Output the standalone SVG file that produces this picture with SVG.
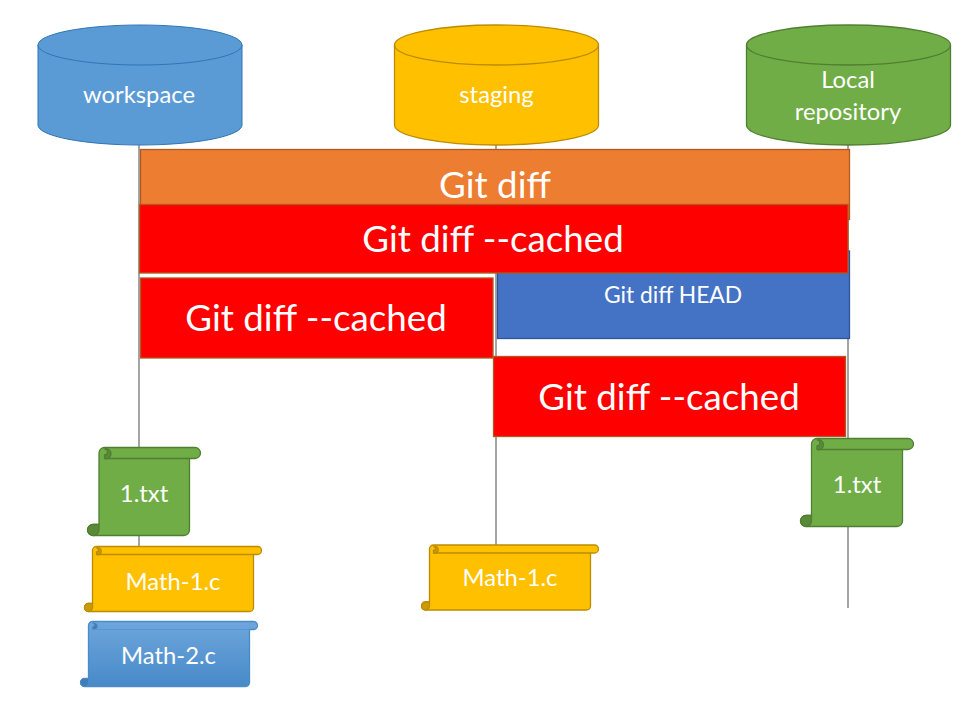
<svg xmlns="http://www.w3.org/2000/svg" width="969" height="712" viewBox="0 0 969 712">
<style>
text{font-family:"Lato","Open Sans","Liberation Sans",sans-serif;fill:#fff;text-anchor:middle}
.t24{font-size:23.800px}.t36{font-size:36.700px}.t22{font-size:22.800px}
.line{stroke:#a5a5a5;stroke-width:2;fill:none}
.blue{fill:#5b9bd5;stroke:#2e75b6;stroke-width:1}
.yellow{fill:#ffc000;stroke:#bc8c00;stroke-width:1.300}
.green{fill:#70ad47;stroke:#507e32;stroke-width:1.300}
.orange{fill:#ed7d31;stroke:#ae5a21;stroke-width:1.300}
.red{fill:#f00;stroke:#ae5a21;stroke-width:1.300}
.bluer{fill:#4472c4;stroke:#2f5597;stroke-width:1.300}
.dy{fill:#cc9a00}.dg{fill:#5a8a39}.db{fill:#3f7cb8}
.edge{fill:none}
</style>
<defs>
<linearGradient id="g" x1="0" y1="0" x2="0" y2="1"><stop offset="0" stop-color="#6ea6dc"/><stop offset="1" stop-color="#478ac8"/></linearGradient>
</defs>
<g id="connectors">
<path class="line" d="M139 145V560"/>
<path class="line" d="M496 145V546"/>
<path class="line" d="M848 145V608"/>
</g>
<g id="workspace">
<path class="blue" d="M38 45V125A102 20 0 0 0 242 125V45A102 20 0 0 0 38 45Z"/>
<path class="blue edge" d="M38 45A102 20 0 0 0 242 45"/>
<text class="t24" x="139" y="103">workspace</text>
</g>
<g id="staging">
<path class="yellow" d="M394.500 45V125A102 20 0 0 0 598.500 125V45A102 20 0 0 0 394.500 45Z"/>
<path class="yellow edge" d="M394.500 45A102 20 0 0 0 598.500 45"/>
<text class="t24" x="496.500" y="103">staging</text>
</g>
<g id="local-repository">
<path class="green" d="M746.500 45V125A102 20 0 0 0 950.500 125V45A102 20 0 0 0 746.500 45Z"/>
<path class="green edge" d="M746.500 45A102 20 0 0 0 950.500 45"/>
<text class="t24" x="848" y="88">Local</text>
<text class="t24" x="848" y="120">repository</text>
</g>
<g id="git-diff">
<rect class="orange" x="140.500" y="149.500" width="709" height="70"/>
<text class="t36" x="495" y="198">Git diff</text>
</g>
<g id="git-diff-head">
<rect class="bluer" x="497.500" y="251" width="352" height="87.500"/>
<text class="t22" x="673" y="303">Git diff HEAD</text>
</g>
<g id="git-diff-cached-1">
<rect class="red" x="139.500" y="204.500" width="708.500" height="68.500"/>
<text class="t36" x="493" y="252">Git diff --cached</text>
</g>
<g id="git-diff-cached-2">
<rect class="red" x="140.500" y="278" width="352.500" height="80"/>
<text class="t36" x="316" y="331">Git diff --cached</text>
</g>
<g id="git-diff-cached-3">
<rect class="red" x="493.500" y="356.500" width="352" height="80"/>
<text class="t36" x="669" y="410">Git diff --cached</text>
</g>
<g id="file-1-workspace">
<path class="green" d="M99 453A5.500 5.500 0 0 1 104.500 447.500H195A5.500 5.500 0 0 1 195 458.500H189.500V530A5.500 5.500 0 0 1 184 535.500H93A5.500 5.500 0 0 1 93 524.500H99Z"/>
<path class="green dg" d="M99 524.500H93A5.500 5.500 0 0 0 93 535.500A5.500 5.500 0 0 0 99 530ZM104.500 458.500A5 5 0 1 0 104.500 449A3 3 0 0 1 104.500 455Z"/>
<path class="green edge" d="M104.500 458.500H189.500"/>
<text class="t24" x="144" y="502">1.txt</text>
</g>
<g id="file-1-repository">
<path class="green" d="M811.500 444A5.500 5.500 0 0 1 817 438.500H908A5.500 5.500 0 0 1 908 449.500H902.500V521A5.500 5.500 0 0 1 897 526.500H806A5.500 5.500 0 0 1 806 515.500H811.500Z"/>
<path class="green dg" d="M811.500 515.500H806A5.500 5.500 0 0 0 806 526.500A5.500 5.500 0 0 0 811.500 521ZM817 449.500A5 5 0 1 0 817 440A3 3 0 0 1 817 446Z"/>
<path class="green edge" d="M817 449.500H902.500"/>
<text class="t24" x="857" y="493">1.txt</text>
</g>
<g id="math-1-workspace">
<path class="yellow" d="M92.500 550.500A4 4 0 0 1 96.500 546.500H257.500A4 4 0 0 1 257.500 554.500H253.500V607.500A4 4 0 0 1 249.500 611.500H88.500A4 4 0 0 1 88.500 603.500H92.500Z"/>
<path class="yellow dy" d="M92.500 603.500H88.500A4 4 0 0 0 88.500 611.500A4 4 0 0 0 92.500 607.500ZM96.500 554.500A3.500 3.500 0 1 0 96.500 548A2 2 0 0 1 96.500 552Z"/>
<path class="yellow edge" d="M96.500 554.500H253.500"/>
<text class="t24" x="173" y="590">Math-1.c</text>
</g>
<g id="math-1-staging">
<path class="yellow" d="M429.500 549A4 4 0 0 1 433.500 545H594.500A4 4 0 0 1 594.500 553H590.500V606A4 4 0 0 1 586.500 610H425.500A4 4 0 0 1 425.500 602H429.500Z"/>
<path class="yellow dy" d="M429.500 602H425.500A4 4 0 0 0 425.500 610A4 4 0 0 0 429.500 606ZM433.500 553A3.500 3.500 0 1 0 433.500 546.500A2 2 0 0 1 433.500 550.500Z"/>
<path class="yellow edge" d="M433.500 553H590.500"/>
<text class="t24" x="510" y="586">Math-1.c</text>
</g>
<g id="math-2-workspace">
<path fill="url(#g)" stroke="#4a8cc8" stroke-width="1.300" d="M88.500 625.500A4 4 0 0 1 92.500 621.500H253.500A4 4 0 0 1 253.500 629.500H249.500V682.500A4 4 0 0 1 245.500 686.500H84.500A4 4 0 0 1 84.500 678.500H88.500Z"/>
<path class="db" stroke="#4a8cc8" d="M88.500 678.500H84.500A4 4 0 0 0 84.500 686.500A4 4 0 0 0 88.500 682.500ZM92.500 629.500A3.500 3.500 0 1 0 92.500 623A2 2 0 0 1 92.500 627Z"/>
<path fill="none" stroke="#5a97d0" d="M92.500 629.500H249.500"/>
<text class="t24" x="168.500" y="664">Math-2.c</text>
</g>
</svg>
